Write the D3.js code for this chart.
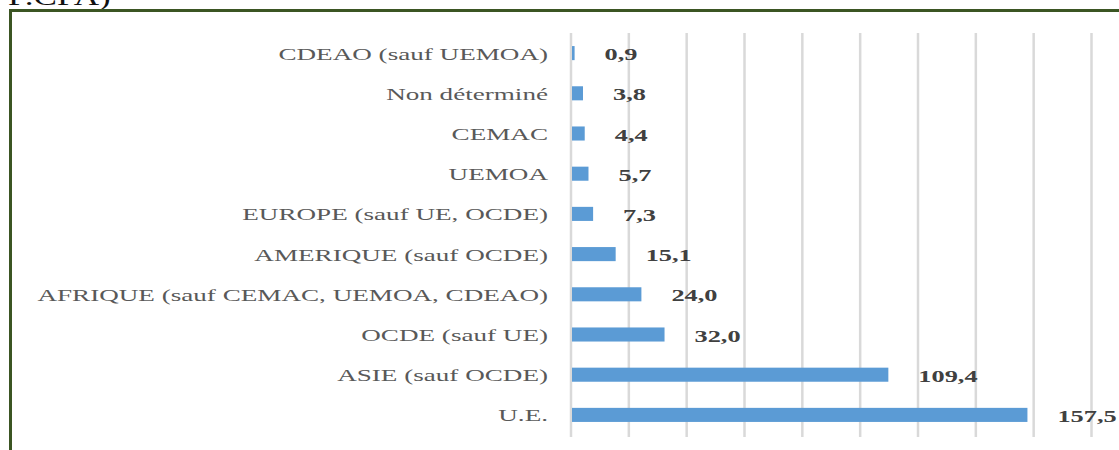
<!DOCTYPE html>
<html><head><meta charset="utf-8">
<script src="https://cdn.jsdelivr.net/npm/d3@7"></script>
<style>html,body{margin:0;padding:0;background:#fff;overflow:hidden}</style>
</head><body>
<svg id="chart" width="1119" height="450"></svg>
<script>
const categories = ["CDEAO (sauf UEMOA)","Non déterminé","CEMAC","UEMOA","EUROPE (sauf UE, OCDE)","AMERIQUE (sauf OCDE)","AFRIQUE (sauf CEMAC, UEMOA, CDEAO)","OCDE (sauf UE)","ASIE (sauf OCDE)","U.E."];
const values = [0.9,3.8,4.4,5.7,7.3,15.1,24.0,32.0,109.4,157.5];
const valueLabels = ["0,9","3,8","4,4","5,7","7,3","15,1","24,0","32,0","109,4","157,5"];
const gridTicks = [0,20,40,60,80,100,120,140,160,180];

const svg = d3.select("#chart");
const x = d3.scaleLinear().domain([0,180]).range([571,1091.5]);
const y = d3.scaleBand().domain(categories).range([33,435]).paddingInner(0.65).paddingOuter(0.325);
const sx = 1.55;

// cut title fragment (clipped by the top edge, as in the reference)
svg.append("text").attr("transform","translate(8,5) scale(1.35,1)")
  .attr("font-family","Liberation Serif").attr("font-size",26).attr("fill","#111").text("F.CFA)");

// frame
svg.append("path").attr("d","M10.5,450 L10.5,10.5 L1119,10.5")
  .attr("fill","none").attr("stroke","#3b5523").attr("stroke-width",3);

// gridlines
svg.append("g").selectAll("line").data(gridTicks).join("line")
  .attr("x1",d=>x(d)).attr("x2",d=>x(d)).attr("y1",33).attr("y2",437)
  .attr("stroke","#d9d9d9").attr("stroke-width",2.5);

// bars
svg.append("g").selectAll("rect").data(values).join("rect")
  .attr("x",x(0)+1).attr("y",(d,i)=>y(categories[i]))
  .attr("width",d=>x(d)-x(0)).attr("height",y.bandwidth())
  .attr("fill","#5b9bd5");

// category labels
svg.append("g").selectAll("text").data(categories).join("text")
  .attr("transform",d=>`translate(548,${y(d)+y.bandwidth()/2+6.5}) scale(${sx},1)`)
  .attr("text-anchor","end").attr("font-family","Liberation Serif").attr("font-size",17.5)
  .attr("fill","#595959").text(d=>d);

// value labels
svg.append("g").selectAll("text").data(values).join("text")
  .attr("transform",(d,i)=>`translate(${x(d)+31},${y(categories[i])+y.bandwidth()/2+7}) scale(${sx},1)`)
  .attr("font-family","Liberation Serif").attr("font-weight","bold").attr("font-size",17)
  .attr("fill","#404040").text((d,i)=>valueLabels[i]);
</script>
</body></html>
